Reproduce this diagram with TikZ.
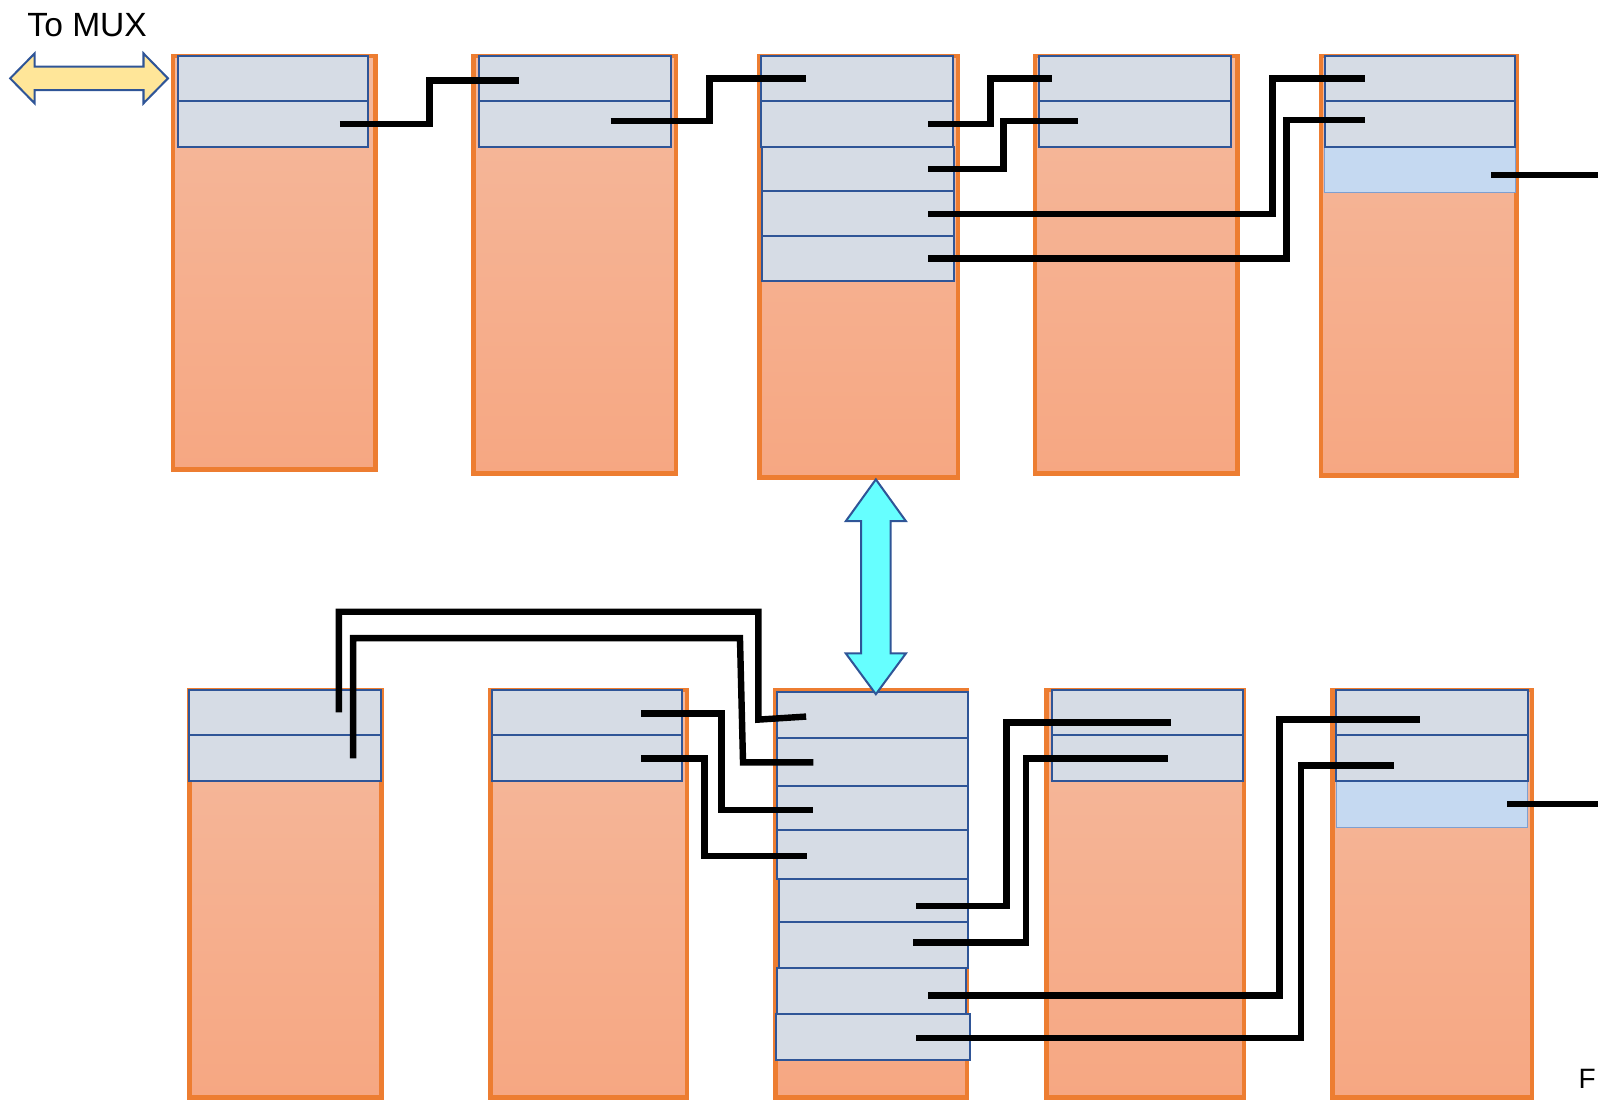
\documentclass[tikz,border=0pt]{standalone}
\usepackage{fontspec}
\newfontfamily\labfont{Liberation Sans}
\usetikzlibrary{fit}
\definecolor{orangeb}{HTML}{ED7D31}
\definecolor{coltop}{HTML}{F5B99D}
\definecolor{colbot}{HTML}{F6A782}
\definecolor{slotfill}{HTML}{D6DCE5}
\definecolor{slotline}{HTML}{2F5597}
\definecolor{lightslot}{HTML}{C5D9F1}
\definecolor{lightline}{HTML}{7F9FCF}
\definecolor{yellowfill}{HTML}{FFE699}
\definecolor{cyanfill}{HTML}{66FFFF}
\tikzset{
  colbox/.style={draw=orangeb, line width=4.5pt, top color=coltop, bottom color=colbot, inner sep=0pt, outer sep=0pt},
  slotbox/.style={draw=slotline, line width=2pt, fill=slotfill, inner sep=0pt, outer sep=0pt},
  lightbox/.style={draw=lightline, line width=1pt, fill=lightslot, inner sep=0pt, outer sep=0pt},
  wire/.style={draw=black, line width=6.3pt, line join=miter},
  bigarrow/.style={draw=slotline, line width=2pt, line join=miter},
  lab/.style={inner sep=0pt, outer sep=0pt, font=\labfont}
}
\begin{document}
\begin{tikzpicture}[x=1pt,y=-1pt]
\useasboundingbox (0,0) rectangle (1570,1081.5);
% ---------- columns ----------
\node[colbox, fit={(170,55) (369,461)}] (T1) {};
\node[colbox, fit={(465,55) (664,465)}] (T2) {};
\node[colbox, fit={(746,55) (941,469)}] (T3) {};
\node[colbox, fit={(1017,55) (1216,465)}] (T4) {};
\node[colbox, fit={(1298,55) (1490,467)}] (T5) {};
\node[colbox, fit={(186,678) (375,1078)}] (B1) {};
\node[colbox, fit={(482,678) (675,1078)}] (B2) {};
\node[colbox, fit={(762,678) (950,1078)}] (B3) {};
\node[colbox, fit={(1028,678) (1222,1078)}] (B4) {};
\node[colbox, fit={(1309,678) (1505,1078)}] (B5) {};
% ---------- top slots ----------
\node[slotbox, fit={(175,55) (362,99)}] (t1a) {};
\node[slotbox, fit={(175,99) (362,144)}] (t1b) {};
\node[slotbox, fit={(471,55) (659,99)}] (t2a) {};
\node[slotbox, fit={(471,99) (659,144)}] (t2b) {};
\node[slotbox, fit={(748,55) (936,99)}] (t3a) {};
\node[slotbox, fit={(748,99) (936,144)}] (t3b) {};
\node[slotbox, fit={(749,144) (937,188)}] (t3c) {};
\node[slotbox, fit={(749,188) (937,232)}] (t3d) {};
\node[slotbox, fit={(749,232) (937,276)}] (t3e) {};
\node[slotbox, fit={(1021,55) (1209,99)}] (t4a) {};
\node[slotbox, fit={(1021,99) (1209,144)}] (t4b) {};
\node[lightbox, fit={(1301,144) (1489,189)}] (t5c) {};
\node[slotbox, fit={(1302,55) (1488,99)}] (t5a) {};
\node[slotbox, fit={(1302,99) (1488,144)}] (t5b) {};
% ---------- bottom slots ----------
\node[slotbox, fit={(186,678) (374,722)}] (b1a) {};
\node[slotbox, fit={(186,722) (374,767)}] (b1b) {};
\node[slotbox, fit={(483,678) (670,722)}] (b2a) {};
\node[slotbox, fit={(483,722) (670,767)}] (b2b) {};
\node[slotbox, fit={(763,680) (951,725)}] (b3a) {};
\node[slotbox, fit={(763,725) (951,772)}] (b3b) {};
\node[slotbox, fit={(763,772) (951,815)}] (b3c) {};
\node[slotbox, fit={(763,815) (951,864)}] (b3d) {};
\node[slotbox, fit={(765,864) (951,906)}] (b3e) {};
\node[slotbox, fit={(765,906) (951,951)}] (b3f) {};
\node[slotbox, fit={(763,951) (949,996)}] (b3g) {};
\node[slotbox, fit={(762,996) (953,1041)}] (b3h) {};
\node[slotbox, fit={(1034,678) (1221,722)}] (b4a) {};
\node[slotbox, fit={(1034,722) (1221,767)}] (b4b) {};
\node[lightbox, fit={(1313,767) (1501,813)}] (b5c) {};
\node[slotbox, fit={(1313,678) (1501,722)}] (b5a) {};
\node[slotbox, fit={(1313,722) (1501,767)}] (b5b) {};
% ---------- wire end points ----------
\coordinate (w1s) at (334,122);   \coordinate (w1e) at (510,79);
\coordinate (w2s) at (600,119);   \coordinate (w2e) at (792,77);
\coordinate (w3s) at (912,122);   \coordinate (w3e) at (1034,77);
\coordinate (w4s) at (912,166);   \coordinate (w4e) at (1059,119);
\coordinate (w5s) at (912,210);   \coordinate (w5e) at (1341,77);
\coordinate (w6s) at (912,254);   \coordinate (w6e) at (1341,118);
\coordinate (w7s) at (1465,172);  \coordinate (w7e) at (1572,172);
\coordinate (l1s) at (333,700);   \coordinate (l1e) at (792,704);
\coordinate (l2s) at (347,745);   \coordinate (l2e) at (799,749);
\coordinate (m1s) at (630,701);   \coordinate (m1e) at (799,796);
\coordinate (m2s) at (630,745);   \coordinate (m2e) at (793,841);
\coordinate (r1s) at (900,890);   \coordinate (r1e) at (1150,710);
\coordinate (r2s) at (897,926);   \coordinate (r2e) at (1148,745);
\coordinate (r3s) at (912,978);   \coordinate (r3e) at (1395,707);
\coordinate (r4s) at (900,1020);  \coordinate (r4e) at (1370,752);
\coordinate (r5s) at (1481,790);  \coordinate (r5e) at (1572,790);
% ---------- wires ----------
\draw[wire] (w1s) -- ++(88,0) |- (w1e);
\draw[wire] (w2s) -- ++(97,0) |- (w2e);
\draw[wire] (w3s) -- ++(61,0) |- (w3e);
\draw[wire] (w4s) -- ++(74,0) |- (w4e);
\draw[wire] (w5s) -- ++(338,0) |- (w5e);
\draw[wire] (w6s) -- ++(352,0) |- (w6e);
\draw[wire] (w7s) -- (w7e);
\draw[wire] (l1s) -- ++(0,-99) -| (745,707) -- (l1e);
\draw[wire] (l2s) -- ++(0,-118) -- (727,627) -- (730,749) -- (l2e);
\draw[wire] (m1s) -- ++(79,0) |- (m1e);
\draw[wire] (m2s) -- ++(62,0) |- (m2e);
\draw[wire] (r1s) -- ++(89,0) |- (r1e);
\draw[wire] (r2s) -- ++(111,0) |- (r2e);
\draw[wire] (r3s) -- ++(345,0) |- (r3e);
\draw[wire] (r4s) -- ++(378,0) |- (r4e);
\draw[wire] (r5s) -- (r5e);
% ---------- big arrows ----------
\draw[bigarrow, fill=yellowfill] (10,77) -- (34,52.5) -- (34,65.5) -- (141,65.5) -- (141,52.5) -- (165,77) -- (141,101.5) -- (141,88.5) -- (34,88.5) -- (34,101.5) -- cycle;
\draw[bigarrow, fill=cyanfill] (860.5,471) -- (890,512) -- (875,512) -- (875,642) -- (890,642) -- (860.5,682) -- (831,642) -- (846,642) -- (846,512) -- (831,512) -- cycle;
% ---------- labels ----------
\node[lab, anchor=base west, font=\labfont\fontsize{33}{36}\selectfont] (mux) at (27,35.5) {To MUX};
\node[lab, anchor=base west, font=\labfont\fontsize{27.5}{30}\selectfont] (fl) at (1551,1069) {F};
\end{tikzpicture}
\end{document}
